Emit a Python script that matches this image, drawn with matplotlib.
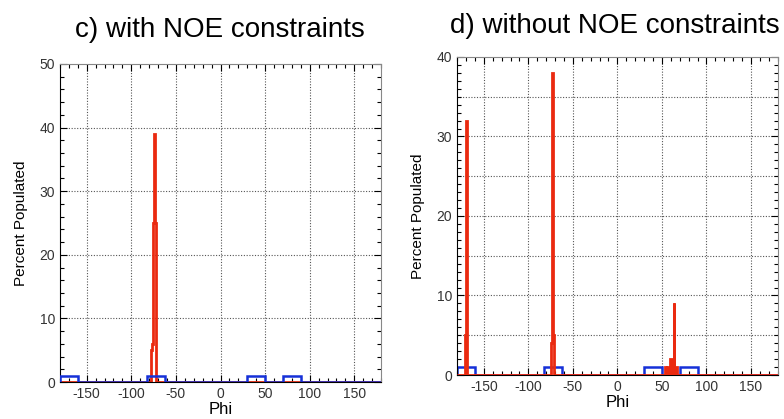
import numpy as np
import matplotlib
matplotlib.use("Agg")
import matplotlib.pyplot as plt
from matplotlib.ticker import MultipleLocator

plt.rcParams['font.family'] = ['Liberation Sans', 'DejaVu Sans']
plt.rcParams['axes.unicode_minus'] = False

# blue reference bins (left edge, width 20 deg)
blue_left = [-180, -82, 30, 70]
blue_height = [1, 1, 1, 1]
blue_width = 20

# red histogram, 1-degree bins (bin start, percent)
red_c_phi = [-78, -77, -76, -75, -74, -73]
red_c_pct = [5, 6, 25, 39, 39, 25]

red_d_phi = [-171, -170, -74, -73, -72, 53, 54, 56, 57, 59, 60, 62, 63, 65, 66]
red_d_pct = [5, 32, 4, 38, 5, 1, 1, 1, 1, 2, 2, 1, 9, 1, 1]

titles = ["c) with NOE constraints", "d) without NOE constraints"]

RED = '#ea2a10'
BLUE = '#1530d8'

edges = np.arange(-180, 181, 1)


def to_grid(starts, vals):
    h = np.zeros(len(edges) - 1)
    for s, v in zip(starts, vals):
        h[s + 180] = v
    return h


blue_grid = np.zeros(len(edges) - 1)
for s, v in zip(blue_left, blue_height):
    blue_grid[s + 180:s + 180 + blue_width] = v

fig = plt.figure(figsize=(7.84, 4.19), dpi=100)
ax1 = fig.add_axes([0.0765, 0.0883, 0.4095, 0.759])
ax2 = fig.add_axes([0.583, 0.105, 0.409, 0.759])


def style(ax, ymax, ymajor, ygrid, yminor):
    ax.set_xlim(-180, 180)
    ax.set_ylim(0, ymax)
    ax.xaxis.set_major_locator(MultipleLocator(50))
    ax.xaxis.set_minor_locator(MultipleLocator(10))
    ax.yaxis.set_major_locator(MultipleLocator(ymajor))
    ax.yaxis.set_minor_locator(MultipleLocator(yminor))
    ax.tick_params(which='both', direction='in', top=True, right=True,
                   labelsize=10, labelcolor='#333333', width=0.8)
    ax.tick_params(which='major', length=5)
    ax.tick_params(which='minor', length=3)
    for y in np.arange(ygrid, ymax, ygrid):
        ax.axhline(y, color='#555555', lw=0.8, ls=(0, (1, 1.5)), zorder=0)
    for x in range(-150, 151, 50):
        ax.axvline(x, color='#555555', lw=0.8, ls=(0, (1, 1.5)), zorder=0)
    ax.spines['top'].set_color('#888888')
    ax.spines['right'].set_color('#888888')
    ax.set_xlabel('Phi', fontsize=12, labelpad=1)
    ax.set_ylabel('Percent Populated', fontsize=11, labelpad=8)


# c) left
style(ax1, 50, 10, 10, 2)
ax1.stairs(to_grid(red_c_phi, red_c_pct), edges, color=RED, lw=2, zorder=2)
ax1.stairs(blue_grid, edges, color=BLUE, lw=1.8, zorder=3)
fig.text(0.2806, 0.912, titles[0], fontsize=20, ha='center', va='baseline')

# d) right
style(ax2, 40, 10, 5, 1)
ax2.stairs(blue_grid, edges, color=BLUE, lw=1.8, zorder=2)
ax2.stairs(to_grid(red_d_phi, red_d_pct), edges, color=RED, lw=2, zorder=3)
fig.text(0.7844, 0.921, titles[1], fontsize=20, ha='center', va='baseline')

fig.savefig('out.png', dpi=100)
